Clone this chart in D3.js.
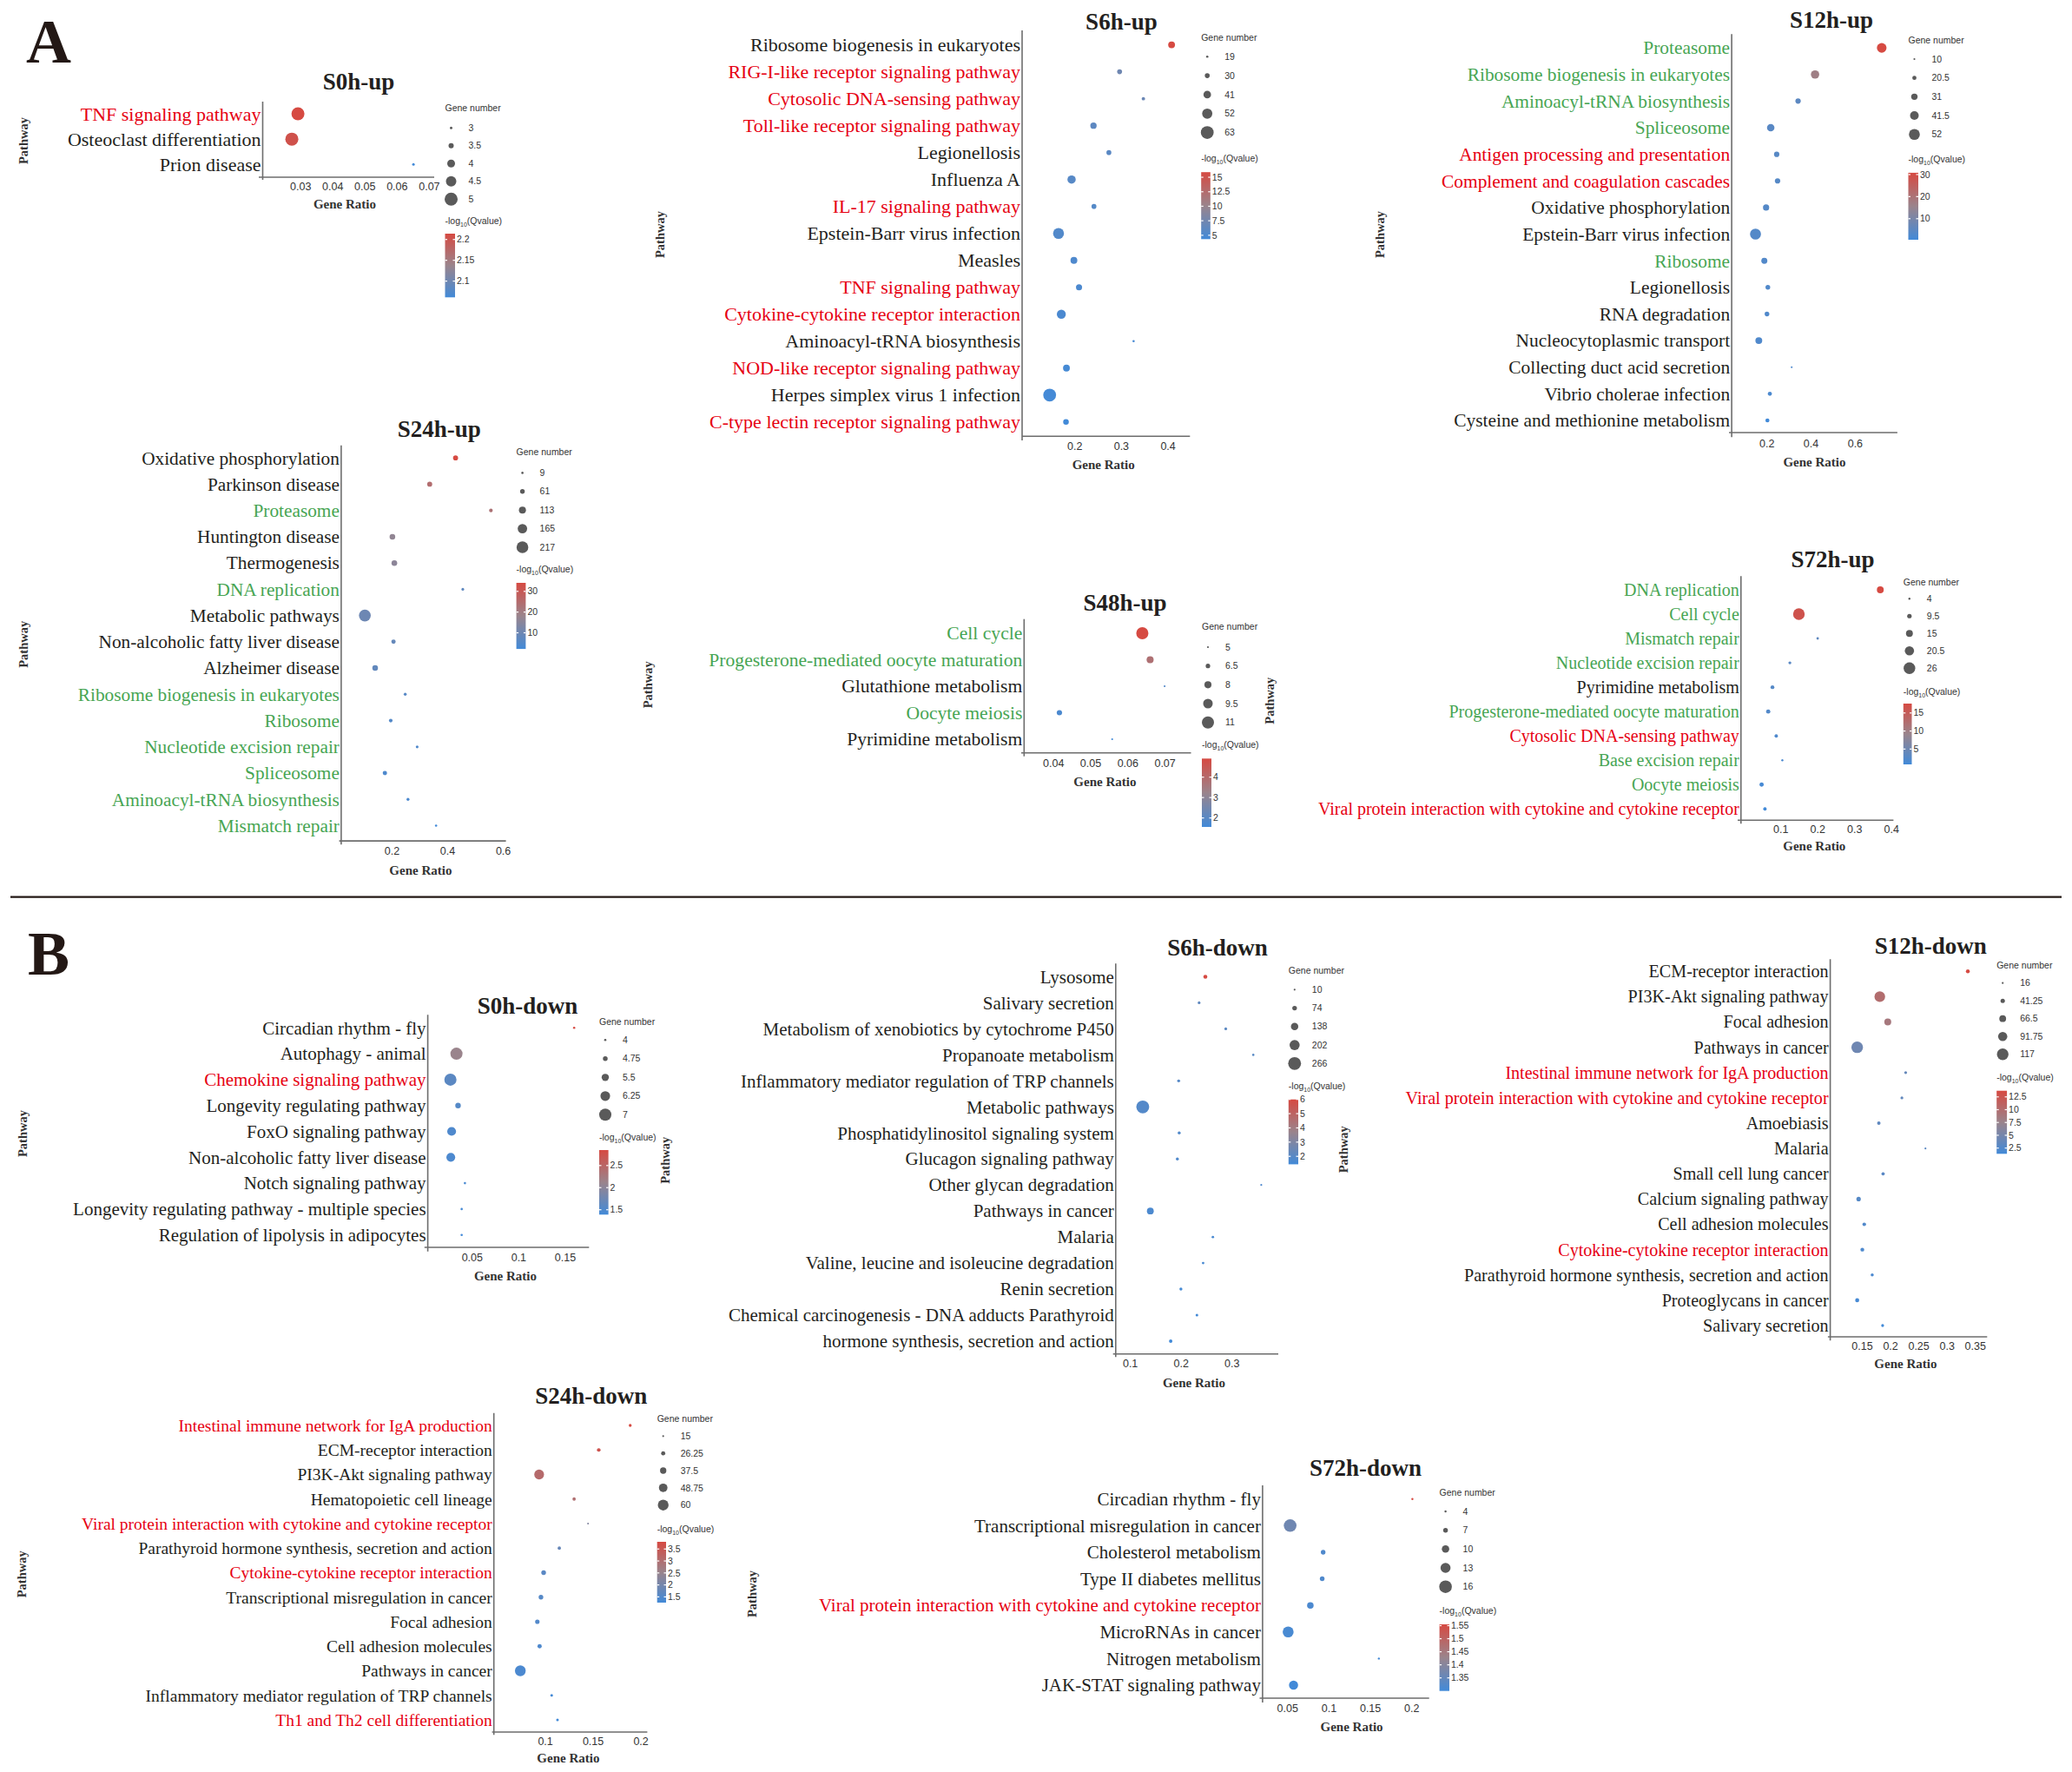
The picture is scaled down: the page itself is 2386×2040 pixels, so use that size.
<!DOCTYPE html>
<html><head><meta charset="utf-8">
<script src="https://cdn.jsdelivr.net/npm/d3@7"></script>
<style>body{margin:0;background:#fff}svg{display:block}</style>
</head><body>
<svg id="fig" width="2386" height="2040"></svg>
<script>
// ---------------- DATA ----------------
// S0h-up
const s0hUpPathways = ["TNF signaling pathway","Osteoclast differentiation","Prion disease"];
const s0hUpGroup = ["r","k","k"];
const s0hUpRatio = [0.0293,0.0274,0.0652];
const s0hUpCount = [5,5,3];
const s0hUpQ = [2.214,2.205,2.061];
const s0hUpXTicks = [0.03,0.04,0.05,0.06,0.07];
const s0hUpQTicks = [2.1,2.15,2.2];
// S6h-up
const s6hUpPathways = ["Ribosome biogenesis in eukaryotes","RIG-I-like receptor signaling pathway","Cytosolic DNA-sensing pathway","Toll-like receptor signaling pathway","Legionellosis","Influenza A","IL-17 signaling pathway","Epstein-Barr virus infection","Measles","TNF signaling pathway","Cytokine-cytokine receptor interaction","Aminoacyl-tRNA biosynthesis","NOD-like receptor signaling pathway","Herpes simplex virus 1 infection","C-type lectin receptor signaling pathway"];
const s6hUpGroup = ["k","r","r","r","k","k","r","k","k","r","r","k","r","k","r"];
const s6hUpRatio = [0.4085,0.297,0.348,0.241,0.274,0.194,0.242,0.166,0.199,0.210,0.172,0.327,0.183,0.147,0.182];
const s6hUpCount = [38,30,24,36,30,44,30,55,38,35,47,19,38,63,33];
const s6hUpQ = [15.88,7.3,7.0,6.1,5.9,5.7,5.6,5.4,5.2,5.0,4.9,4.7,4.6,4.5,4.33];
const s6hUpXTicks = [0.2,0.3,0.4];
const s6hUpQTicks = [5,7.5,10,12.5,15];
// S12h-up
const s12hUpPathways = ["Proteasome","Ribosome biogenesis in eukaryotes","Aminoacyl-tRNA biosynthesis","Spliceosome","Antigen processing and presentation","Complement and coagulation cascades","Oxidative phosphorylation","Epstein-Barr virus infection","Ribosome","Legionellosis","RNA degradation","Nucleocytoplasmic transport","Collecting duct acid secretion","Vibrio cholerae infection","Cysteine and methionine metabolism"];
const s12hUpGroup = ["g","g","g","g","r","r","k","k","g","k","k","k","k","k","k"];
const s12hUpRatio = [0.722,0.42,0.343,0.219,0.246,0.25,0.198,0.15,0.19,0.206,0.202,0.165,0.314,0.215,0.204];
const s12hUpCount = [46,40,26,36,26,26,30,52,29,23,23,33,10,20,20];
const s12hUpQ = [30.8,17,5,4.5,4.2,4,3.8,3.6,3.4,3.2,3,2.8,2.5,2.2,0.47];
const s12hUpXTicks = [0.2,0.4,0.6];
const s12hUpQTicks = [10,20,30];
// S24h-up
const s24hUpPathways = ["Oxidative phosphorylation","Parkinson disease","Proteasome","Huntington disease","Thermogenesis","DNA replication","Metabolic pathways","Non-alcoholic fatty liver disease","Alzheimer disease","Ribosome biogenesis in eukaryotes","Ribosome","Nucleotide excision repair","Spliceosome","Aminoacyl-tRNA biosynthesis","Mismatch repair"];
const s24hUpGroup = ["k","k","g","k","k","g","k","k","k","g","g","g","g","g","g"];
const s24hUpRatio = [0.43,0.337,0.557,0.203,0.21,0.456,0.104,0.207,0.141,0.249,0.197,0.292,0.176,0.259,0.36];
const s24hUpCount = [68,68,39,83,83,20,217,54,83,24,39,20,54,24,9];
const s24hUpQ = [34.1,24.5,23,16.6,15.6,7.5,10,8.5,8,6,5.5,5,4.5,4,2.2];
const s24hUpXTicks = [0.2,0.4,0.6];
const s24hUpQTicks = [10,20,30];
// S48h-up
const s48hUpPathways = ["Cell cycle","Progesterone-mediated oocyte maturation","Glutathione metabolism","Oocyte meiosis","Pyrimidine metabolism"];
const s48hUpGroup = ["g","g","k","g","k"];
const s48hUpRatio = [0.064,0.0661,0.070,0.0417,0.0559];
const s48hUpCount = [11,8,5,7,5];
const s48hUpQ = [4.91,3.8,1.9,1.75,1.56];
const s48hUpXTicks = [0.04,0.05,0.06,0.07];
const s48hUpQTicks = [2,3,4];
// S72h-up
const s72hUpPathways = ["DNA replication","Cell cycle","Mismatch repair","Nucleotide excision repair","Pyrimidine metabolism","Progesterone-mediated oocyte maturation","Cytosolic DNA-sensing pathway","Base excision repair","Oocyte meiosis","Viral protein interaction with cytokine and cytokine receptor"];
const s72hUpGroup = ["g","g","g","g","k","g","r","g","g","r"];
const s72hUpRatio = [0.3707,0.15,0.2009,0.1255,0.0783,0.0668,0.0885,0.1051,0.0489,0.0579];
const s72hUpCount = [15,26,5,6,8,9,7,4,9,7];
const s72hUpQ = [17.6,16.5,3.5,3.0,2.6,2.4,2.0,1.6,1.2,0.75];
const s72hUpXTicks = [0.1,0.2,0.3,0.4];
const s72hUpQTicks = [5,10,15];
// S0h-down
const s0hDownPathways = ["Circadian rhythm - fly","Autophagy - animal","Chemokine signaling pathway","Longevity regulating pathway","FoxO signaling pathway","Non-alcoholic fatty liver disease","Notch signaling pathway","Longevity regulating pathway - multiple species","Regulation of lipolysis in adipocytes"];
const s0hDownGroup = ["k","k","r","k","k","k","k","k","k"];
const s0hDownRatio = [0.16,0.0335,0.027,0.0352,0.0283,0.0274,0.0426,0.0391,0.0391];
const s0hDownCount = [4,7,7,5,6,6,4,4,4];
const s0hDownQ = [2.85,2.12,1.6,1.55,1.5,1.48,1.45,1.42,1.39];
const s0hDownXTicks = [0.05,0.1,0.15];
const s0hDownQTicks = [1.5,2,2.5];
// S6h-down
const s6hDownPathways = ["Lysosome","Salivary secretion","Metabolism of xenobiotics by cytochrome P450","Propanoate metabolism","Inflammatory mediator regulation of TRP channels","Metabolic pathways","Phosphatidylinositol signaling system","Glucagon signaling pathway","Other glycan degradation","Pathways in cancer","Malaria","Valine, leucine and isoleucine degradation","Renin secretion","Chemical carcinogenesis - DNA adducts Parathyroid","hormone synthesis, secretion and action"];
const s6hDownGroup = ["k","k","k","k","k","k","k","k","k","k","k","k","k","k","k"];
const s6hDownRatio = [0.2485,0.2362,0.2886,0.3428,0.196,0.1253,0.197,0.1934,0.3585,0.1402,0.2633,0.2441,0.2004,0.2319,0.1803];
const s6hDownCount = [58,30,30,18,35,266,35,35,10,125,24,24,35,28,45];
const s6hDownQ = [6.0,2.2,2.1,2.0,1.95,1.9,1.85,1.8,1.75,1.7,1.65,1.6,1.55,1.5,1.44];
const s6hDownXTicks = [0.1,0.2,0.3];
const s6hDownQTicks = [2,3,4,5,6];
// S12h-down
const s12hDownPathways = ["ECM-receptor interaction","PI3K-Akt signaling pathway","Focal adhesion","Pathways in cancer","Intestinal immune network for IgA production","Viral protein interaction with cytokine and cytokine receptor","Amoebiasis","Malaria","Small cell lung cancer","Calcium signaling pathway","Cell adhesion molecules","Cytokine-cytokine receptor interaction","Parathyroid hormone synthesis, secretion and action","Proteoglycans in cancer","Salivary secretion"];
const s12hDownGroup = ["k","k","k","k","r","r","k","k","k","k","k","r","k","k","k"];
const s12hDownRatio = [0.3375,0.1817,0.1958,0.1417,0.2275,0.2208,0.18,0.2625,0.1875,0.1442,0.1542,0.1508,0.1683,0.1417,0.1867];
const s12hDownCount = [36,107,68,117,26,26,32,16,30,42,34,36,28,38,26];
const s12hDownQ = [13.7,10,8.8,4.5,3.8,3.6,3.4,3.2,3,2.8,2.5,2.2,2,1.7,1.38];
const s12hDownXTicks = [0.15,0.2,0.25,0.3,0.35];
const s12hDownQTicks = [2.5,5,7.5,10,12.5];
// S24h-down
const s24hDownPathways = ["Intestinal immune network for IgA production","ECM-receptor interaction","PI3K-Akt signaling pathway","Hematopoietic cell lineage","Viral protein interaction with cytokine and cytokine receptor","Parathyroid hormone synthesis, secretion and action","Cytokine-cytokine receptor interaction","Transcriptional misregulation in cancer","Focal adhesion","Cell adhesion molecules","Pathways in cancer","Inflammatory mediator regulation of TRP channels","Th1 and Th2 cell differentiation"];
const s24hDownGroup = ["r","k","k","k","r","k","r","k","k","k","k","k","r"];
const s24hDownRatio = [0.1892,0.1563,0.0939,0.1305,0.1451,0.115,0.0986,0.0958,0.092,0.0944,0.0742,0.107,0.1131];
const s24hDownCount = [20,24,55,22,15,22,29,29,28,27,60,19,19];
const s24hDownQ = [3.8,3.6,3.1,3.0,2.2,1.8,1.6,1.55,1.5,1.45,1.4,1.3,1.26];
const s24hDownXTicks = [0.1,0.15,0.2];
const s24hDownQTicks = [1.5,2,2.5,3,3.5];
// S72h-down
const s72hDownPathways = ["Circadian rhythm - fly","Transcriptional misregulation in cancer","Cholesterol metabolism","Type II diabetes mellitus","Viral protein interaction with cytokine and cytokine receptor","MicroRNAs in cancer","Nitrogen metabolism","JAK-STAT signaling pathway"];
const s72hDownGroup = ["k","k","k","k","r","k","k","k"];
const s72hDownRatio = [0.2012,0.0536,0.0935,0.0923,0.078,0.0512,0.1607,0.0577];
const s72hDownCount = [4,16,7,7,9,14,4,12];
const s72hDownQ = [1.555,1.365,1.32,1.32,1.315,1.31,1.305,1.30];
const s72hDownXTicks = [0.05,0.1,0.15,0.2];
const s72hDownQTicks = [1.35,1.4,1.45,1.5,1.55];

// ---------------- LAYOUT (positions only) ----------------
const s0hUpLayout = {tx:413,ty:103,x0:302.5,xl:298,xe:500,yt:117,yb:207,xa:204,r0:131,rn:189.3,xd:[0.01834,0.07165],fs:22,tk:215,gx:397,gy:235,px:27,py:162,lx:512.5,st:124,i0:147.3,in:229.3,ct:254,bt:269,bb:342.3,bw:11.5,rr:[1.5,7.5]};
const s6hUpLayout = {tx:1291.4,ty:34.4,x0:1177,xl:1177,xe:1370.3,yt:35,yb:507,xa:502.3,r0:51.6,rn:485.8,xd:[0.0879,0.4479],fs:22,tk:514,gx:1270.7,gy:535,px:760,py:270,lx:1383.2,st:43.1,i0:65.2,in:152.6,ct:182.4,bt:198.2,bb:275.3,bw:10.6,rr:[1.3,7.4]};
const s12hUpLayout = {tx:2109,ty:31.6,x0:1994.1,xl:1991,xe:2184.9,yt:39.3,yb:503.3,xa:498,r0:55.1,rn:484,xd:[0.042,0.793],fs:21.4,tk:510.3,gx:2089.5,gy:531.4,px:1589,py:270,lx:2197.5,st:46.6,i0:68,in:154.7,ct:183.1,bt:198.9,bb:276,bw:11.5,rr:[1.1,6.3]};
const s24hUpLayout = {tx:505.8,ty:503.3,x0:392.9,xl:390.6,xe:582.6,yt:512.8,yb:972.3,xa:968.1,r0:527.2,rn:950.5,xd:[0.0189,0.611],fs:21.3,tk:979.6,gx:484.4,gy:1001.4,px:26.8,py:741.8,lx:594.6,st:520.2,i0:544.4,in:630,ct:655.2,bt:671,bb:747.1,bw:10.8,rr:[1.3,6.8]};
const s48hUpLayout = {tx:1295.6,ty:703.3,x0:1179.3,xl:1176,xe:1371.5,yt:712.7,yb:870.7,xa:866.7,r0:729,rn:851,xd:[0.0322,0.0771],fs:21.6,tk:878.3,gx:1272.4,gy:899.3,px:746.3,py:788.3,lx:1384,st:721,i0:745,in:831.7,ct:857.3,bt:873.3,bb:952,bw:11,rr:[1.1,7]};
const s72hUpLayout = {tx:2110.5,ty:653.3,x0:2004.8,xl:2001,xe:2180.4,yt:663.3,yb:948.3,xa:944.3,r0:679,rn:931.3,xd:[-0.0071,0.4064],fs:20,tk:955,gx:2089.3,gy:974,px:1461.7,py:806.7,lx:2191.8,st:670,i0:689.3,in:769.3,ct:796,bt:810,bb:880,bw:9.7,rr:[1.2,6.7]};
const s0hDownLayout = {tx:607.5,ty:1166.7,x0:492.6,xl:488.8,xe:678.3,yt:1168.3,yb:1440.7,xa:1436,r0:1183.3,rn:1421.7,xd:[0.00266,0.176],fs:21,tk:1447.7,gx:582,gy:1468.3,px:25.6,py:1305,lx:690,st:1176.7,i0:1197.3,in:1283.3,ct:1309.3,bt:1324,bb:1398.3,bw:10.6,rr:[1.3,7]};
const s6hDownLayout = {tx:1402.1,ty:1100.4,x0:1284.8,xl:1281.7,xe:1472,yt:1109.2,yb:1562.3,xa:1558.8,r0:1124.5,rn:1544,xd:[0.0721,0.392],fs:21,tk:1569.4,gx:1375,gy:1591.4,px:766.4,py:1335.8,lx:1483.8,st:1117.4,i0:1139.3,in:1224.3,ct:1250.8,bt:1265.7,bb:1340.4,bw:11.2,rr:[1.1,7.4]};
const s12hDownLayout = {tx:2223.2,ty:1098.3,x0:2107.6,xl:2104.9,xe:2288.3,yt:1104.3,yb:1543.3,xa:1539,r0:1118.3,rn:1526,xd:[0.094,0.3717],fs:20.1,tk:1550,gx:2194.4,gy:1570,px:1547,py:1323.3,lx:2299.2,st:1111.7,i0:1131.7,in:1213.7,ct:1240.7,bt:1255.7,bb:1328.3,bw:11.9,rr:[1.1,6.7]};
const s24hDownLayout = {tx:680.8,ty:1616,x0:568.7,xl:566.6,xe:745.4,yt:1626.7,yb:1997.3,xa:1994,r0:1641,rn:1980,xd:[0.0465,0.2071],fs:19.5,tk:2004.3,gx:654.4,gy:2023.3,px:24.8,py:1812.3,lx:756.7,st:1633.3,i0:1653.3,in:1732.7,ct:1760,bt:1775,bb:1845,bw:10.3,rr:[1.1,6.2]};
const s72hDownLayout = {tx:1572.5,ty:1699,x0:1453.9,xl:1450.5,xe:1645.7,yt:1710,yb:1960,xa:1955,r0:1725.7,rn:1940,xd:[0.0203,0.2214],fs:21,tk:1966.7,gx:1556.6,gy:1987.7,px:865.9,py:1835,lx:1657.6,st:1718.3,i0:1740,in:1826.7,ct:1854.3,bt:1870,bb:1946.7,bw:11.4,rr:[1.2,7.3]};

const panels = [
 {title:"S0h-up",pathways:s0hUpPathways,group:s0hUpGroup,ratio:s0hUpRatio,count:s0hUpCount,q:s0hUpQ,xTicks:s0hUpXTicks,qTicks:s0hUpQTicks,L:s0hUpLayout},
 {title:"S6h-up",pathways:s6hUpPathways,group:s6hUpGroup,ratio:s6hUpRatio,count:s6hUpCount,q:s6hUpQ,xTicks:s6hUpXTicks,qTicks:s6hUpQTicks,L:s6hUpLayout},
 {title:"S12h-up",pathways:s12hUpPathways,group:s12hUpGroup,ratio:s12hUpRatio,count:s12hUpCount,q:s12hUpQ,xTicks:s12hUpXTicks,qTicks:s12hUpQTicks,L:s12hUpLayout},
 {title:"S24h-up",pathways:s24hUpPathways,group:s24hUpGroup,ratio:s24hUpRatio,count:s24hUpCount,q:s24hUpQ,xTicks:s24hUpXTicks,qTicks:s24hUpQTicks,L:s24hUpLayout},
 {title:"S48h-up",pathways:s48hUpPathways,group:s48hUpGroup,ratio:s48hUpRatio,count:s48hUpCount,q:s48hUpQ,xTicks:s48hUpXTicks,qTicks:s48hUpQTicks,L:s48hUpLayout},
 {title:"S72h-up",pathways:s72hUpPathways,group:s72hUpGroup,ratio:s72hUpRatio,count:s72hUpCount,q:s72hUpQ,xTicks:s72hUpXTicks,qTicks:s72hUpQTicks,L:s72hUpLayout},
 {title:"S0h-down",pathways:s0hDownPathways,group:s0hDownGroup,ratio:s0hDownRatio,count:s0hDownCount,q:s0hDownQ,xTicks:s0hDownXTicks,qTicks:s0hDownQTicks,L:s0hDownLayout},
 {title:"S6h-down",pathways:s6hDownPathways,group:s6hDownGroup,ratio:s6hDownRatio,count:s6hDownCount,q:s6hDownQ,xTicks:s6hDownXTicks,qTicks:s6hDownQTicks,L:s6hDownLayout},
 {title:"S12h-down",pathways:s12hDownPathways,group:s12hDownGroup,ratio:s12hDownRatio,count:s12hDownCount,q:s12hDownQ,xTicks:s12hDownXTicks,qTicks:s12hDownQTicks,L:s12hDownLayout},
 {title:"S24h-down",pathways:s24hDownPathways,group:s24hDownGroup,ratio:s24hDownRatio,count:s24hDownCount,q:s24hDownQ,xTicks:s24hDownXTicks,qTicks:s24hDownQTicks,L:s24hDownLayout},
 {title:"S72h-down",pathways:s72hDownPathways,group:s72hDownGroup,ratio:s72hDownRatio,count:s72hDownCount,q:s72hDownQ,xTicks:s72hDownXTicks,qTicks:s72hDownQTicks,L:s72hDownLayout}
];

// ---------------- STYLE ----------------
const SERIF = "'Liberation Serif','Times New Roman',Times,serif";
const SANS = "'Liberation Sans',Arial,Helvetica,sans-serif";
const LOW = "#428ad8", MID = "#9a848c", HIGH = "#d64a42";
const LABEL_COL = {r:"#e60012", g:"#47a553", k:"#231f20"};
const AXIS_COL = "#6d6d6d";
const TXT = "#333333";

const svg = d3.select("#fig");
svg.append("rect").attr("width",2386).attr("height",2040).attr("fill","#fff");
const defs = svg.append("defs");

// panel letters and separator
svg.append("text").attr("x",30).attr("y",71.5).attr("font-family",SERIF).attr("font-weight","bold")
  .attr("font-size",72).attr("fill","#231815").text("A");
svg.append("text").attr("x",32).attr("y",1122.3).attr("font-family",SERIF).attr("font-weight","bold")
  .attr("font-size",72).attr("fill","#231815").text("B");
svg.append("line").attr("x1",12).attr("x2",2374).attr("y1",1032.7).attr("y2",1032.7)
  .attr("stroke","#231815").attr("stroke-width",2.2);

const clean = v => +(+v).toFixed(4);

panels.forEach((p, pi) => {
  const L = p.L;
  const g = svg.append("g");
  const x = d3.scaleLinear().domain(L.xd).range([L.x0, L.xe]);
  const y = d3.scalePoint().domain(p.pathways).range([L.r0, L.rn]);
  const cExt = d3.extent(p.count);
  const r = d3.scaleLinear().domain(cExt).range(L.rr);
  const qExt = d3.extent(p.q);
  const qMid = (qExt[0] + qExt[1]) / 2;
  const col = d3.scaleLinear().domain([qExt[0], qMid, qExt[1]]).range([LOW, MID, HIGH]).interpolate(d3.interpolateRgb);

  // title
  g.append("text").attr("x",L.tx).attr("y",L.ty).attr("text-anchor","middle")
    .attr("font-family",SERIF).attr("font-weight","bold").attr("font-size",27).attr("fill","#231f20").text(p.title);

  // axis lines
  g.append("line").attr("x1",L.x0).attr("x2",L.x0).attr("y1",L.yt).attr("y2",L.yb)
    .attr("stroke",AXIS_COL).attr("stroke-width",1.6);
  g.append("line").attr("x1",L.xl).attr("x2",L.xe).attr("y1",L.xa).attr("y2",L.xa)
    .attr("stroke",AXIS_COL).attr("stroke-width",1.6);

  // x tick labels
  const xa = d3.axisBottom(x).tickValues(p.xTicks).tickSize(0).tickPadding(0).tickFormat(d => String(d));
  const xg = g.append("g").attr("transform",`translate(0,${L.tk})`).call(xa);
  xg.select(".domain").remove();
  xg.attr("font-family",SANS).attr("font-size",12.5);
  xg.selectAll("text").attr("dy","0.35em").attr("fill",TXT);

  // y axis labels
  const grp = new Map(p.pathways.map((d,i)=>[d,p.group[i]]));
  const ya = d3.axisLeft(y).tickSize(0).tickPadding(0);
  const yg = g.append("g").attr("transform",`translate(${L.x0-2},0)`).call(ya);
  yg.select(".domain").remove();
  yg.attr("font-family",SERIF).attr("font-size",L.fs);
  yg.selectAll("text").attr("dy","0.32em").attr("fill",d => LABEL_COL[grp.get(d)]);

  // dots
  g.append("g").selectAll("circle").data(p.pathways.map((d,i)=>i)).join("circle")
    .attr("cx", i => x(p.ratio[i])).attr("cy", i => y(p.pathways[i]))
    .attr("r", i => r(p.count[i])).attr("fill", i => col(p.q[i]));

  // axis titles
  g.append("text").attr("x",L.gx).attr("y",L.gy).attr("dy","0.35em").attr("text-anchor","middle")
    .attr("font-family",SERIF).attr("font-weight","bold").attr("font-size",15).attr("fill",TXT).text("Gene Ratio");
  g.append("text").attr("transform",`translate(${L.px},${L.py}) rotate(-90)`).attr("dy","0.35em")
    .attr("text-anchor","middle").attr("font-family",SERIF).attr("font-weight","bold")
    .attr("font-size",14.5).attr("fill",TXT).text("Pathway");

  // size legend
  g.append("text").attr("x",L.lx).attr("y",L.st).attr("dy","0.35em").attr("font-family",SANS)
    .attr("font-size",10.5).attr("fill",TXT).text("Gene number");
  const sizeVals = d3.range(5).map(k => clean(cExt[0] + (cExt[1]-cExt[0])*k/4));
  const sy = d3.scalePoint().domain(d3.range(5)).range([L.i0, L.in]);
  const sg = g.append("g").selectAll("g").data(sizeVals).join("g")
    .attr("transform",(d,k)=>`translate(0,${sy(k)})`);
  sg.append("circle").attr("cx",L.lx+7).attr("cy",0).attr("r",d=>r(d)).attr("fill","#5a5a5a");
  sg.append("text").attr("x",L.lx+27).attr("dy","0.35em").attr("font-family",SANS)
    .attr("font-size",10.5).attr("fill",TXT).text(d=>String(d));

  // color legend
  const ct = g.append("text").attr("x",L.lx).attr("y",L.ct).attr("dy","0.35em").attr("font-family",SANS)
    .attr("font-size",10.5).attr("fill",TXT);
  ct.append("tspan").text("-log");
  ct.append("tspan").attr("font-size",7).attr("dy",3).text("10");
  ct.append("tspan").attr("dy",-3).text("(Qvalue)");

  const gid = "grad"+pi;
  const lg = defs.append("linearGradient").attr("id",gid).attr("x1",0).attr("y1",0).attr("x2",0).attr("y2",1);
  lg.append("stop").attr("offset","0%").attr("stop-color",col(qExt[1]));
  lg.append("stop").attr("offset","50%").attr("stop-color",col(qMid));
  lg.append("stop").attr("offset","100%").attr("stop-color",col(qExt[0]));
  g.append("rect").attr("x",L.lx).attr("y",L.bt).attr("width",L.bw).attr("height",L.bb-L.bt)
    .attr("fill",`url(#${gid})`);
  const qy = d3.scaleLinear().domain(qExt).range([L.bb, L.bt]);
  const tg = g.append("g").selectAll("g").data(p.qTicks).join("g").attr("transform",d=>`translate(0,${qy(d)})`);
  tg.append("line").attr("x1",L.lx).attr("x2",L.lx+2.5).attr("stroke","#fff").attr("stroke-width",1.2);
  tg.append("line").attr("x1",L.lx+L.bw-2.5).attr("x2",L.lx+L.bw).attr("stroke","#fff").attr("stroke-width",1.2);
  tg.append("text").attr("x",L.lx+L.bw+2).attr("dy","0.35em").attr("font-family",SANS)
    .attr("font-size",10.5).attr("fill",TXT).text(d=>String(d));
});
</script>
</body></html>
